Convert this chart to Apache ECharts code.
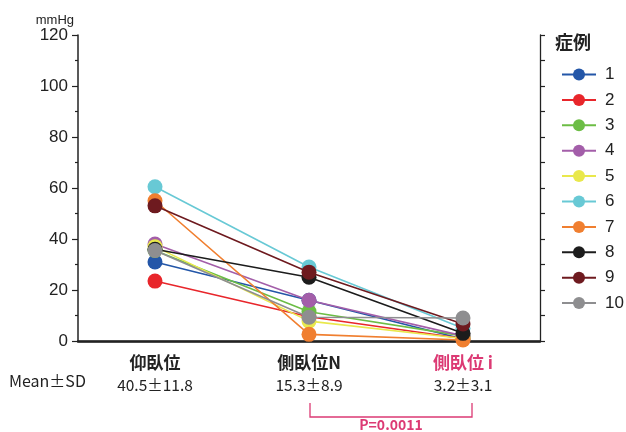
<!DOCTYPE html>
<html>
<head>
<meta charset="utf-8">
<script src="https://cdn.jsdelivr.net/npm/echarts@6/dist/echarts.min.js"></script>
<style>
  html, body { margin: 0; padding: 0; background: #fff; }
  #chart { width: 626px; height: 432px; }
</style>
</head>
<body>
<div id="chart"></div>
<script>
// Positions (categories) and the summary row under each
const positions = ['仰臥位', '側臥位N', '側臥位 i'];
const meanSd = ['40.5±11.8', '15.3±8.9', '3.2±3.1'];
const pValue = 'P=0.0011';

// Pressure per case (mmHg) at each position
const case1 = [31, 16, 0.8];
const case2 = [23.5, 9.5, 1];
const case3 = [35.5, 11.5, 2];
const case4 = [38, 16, 2];
const case5 = [37, 7.8, 1];
const case6 = [60.5, 29, 5];
const case7 = [55, 2.6, 0.4];
const case8 = [36, 25, 3];
const case9 = [53, 27, 6.7];
const case10 = [35.5, 9.3, 9];

const caseNames = ['1', '2', '3', '4', '5', '6', '7', '8', '9', '10'];
const caseData = [case1, case2, case3, case4, case5, case6, case7, case8, case9, case10];
const caseColors = ['#2356a8', '#e8262b', '#6cbd45', '#a35ea9', '#e9e84c',
                    '#68c9d5', '#f07f30', '#1c1c1c', '#6e1a1f', '#8e8e90'];

const yTicks = [0, 20, 40, 60, 80, 100, 120];

const FONT = '"Liberation Sans Narrow", "Liberation Sans", "Noto Sans CJK JP", sans-serif';
const CJK = '"Noto Sans CJK JP", sans-serif';
const PINK = '#dc3a74';
const INK = '#222';

const chart = echarts.init(document.getElementById('chart'), null, { renderer: 'canvas' });

const series = caseData.map((vals, i) => ({
  name: caseNames[i],
  type: 'line',
  data: vals,
  symbol: 'circle',
  symbolSize: 15,
  color: caseColors[i],
  lineStyle: { width: 1.6, color: caseColors[i] },
  itemStyle: { color: caseColors[i] },
  emphasis: { disabled: true },
  animation: false,
  z: 3 + i
}));

const option = {
  animation: false,
  grid: { left: 78, right: 86, top: 35, bottom: 91, containLabel: false },
  xAxis: [{
    type: 'category',
    data: positions,
    boundaryGap: true,
    axisLine: { lineStyle: { color: INK, width: 2.5 } },
    axisTick: { alignWithLabel: true, length: 4, lineStyle: { color: INK, width: 1.2 } },
    axisLabel: {
      margin: 11,
      interval: 0,
      formatter: (v, idx) => {
        const key = idx === 2 ? 'hp' : 'h';
        return '{' + key + '|' + v + '}\n{m|' + meanSd[idx] + '}';
      },
      rich: {
        h: { fontFamily: CJK, fontSize: 17, fontWeight: 'bold', color: INK, lineHeight: 22 },
        hp: { fontFamily: CJK, fontSize: 17, fontWeight: 'bold', color: PINK, lineHeight: 22 },
        m: { fontFamily: CJK, fontSize: 15.5, color: INK, lineHeight: 22 }
      }
    }
  }, {
    type: 'category',
    data: positions,
    position: 'top',
    axisLine: { lineStyle: { color: INK, width: 1.3 } },
    axisTick: { show: false },
    axisLabel: { show: false }
  }],
  yAxis: [{
    type: 'value',
    min: 0, max: 120, interval: 20,
    name: 'mmHg',
    nameLocation: 'end',
    nameGap: 6,
    nameTextStyle: { fontFamily: FONT, fontSize: 13, color: INK, align: 'right', padding: [0, 4, 0, 0] },
    axisLine: { show: true, lineStyle: { color: INK, width: 1.5 } },
    axisTick: { show: true, length: 6, lineStyle: { color: INK, width: 1.2 } },
    minorTick: { show: true, splitNumber: 2, length: 3, lineStyle: { color: INK, width: 1.2 } },
    splitLine: { show: false },
    axisLabel: {
      margin: 10,
      fontFamily: FONT, fontSize: 17, color: INK,
      formatter: v => (yTicks.indexOf(v) >= 0 ? String(v) : '')
    }
  }, {
    type: 'value',
    min: 0, max: 120, interval: 10,
    position: 'right',
    axisLine: { show: true, lineStyle: { color: INK, width: 1.3 } },
    axisTick: { show: true, length: 5, lineStyle: { color: INK, width: 1.2 } },
    splitLine: { show: false },
    axisLabel: { show: false }
  }],
  legend: {
    orient: 'vertical',
    left: 556,
    top: 61,
    itemWidth: 34,
    itemHeight: 15,
    itemGap: 8.4,
    data: caseNames,
    selectedMode: false,
    textStyle: { fontFamily: FONT, fontSize: 17, color: INK, padding: [0, 0, 0, 4], lineHeight: 15 }
  },
  series: series
};

chart.setOption(option);

// Annotations placed from the axis scales: legend title, summary caption and significance bracket
const p1 = chart.convertToPixel({ xAxisIndex: 0, yAxisIndex: 0 }, [1, 0]);
const p2 = chart.convertToPixel({ xAxisIndex: 0, yAxisIndex: 0 }, [2, 0]);
const xL = p1[0] + 1;
const xR = p2[0] + 9;
const yTop = p1[1] + 62;
const yBot = p1[1] + 76;

chart.setOption({
  graphic: [
    {
      type: 'text', left: 555, top: 33,
      style: { text: '症例', fontFamily: CJK, fontSize: 18, fontWeight: 'bold', fill: INK }
    },
    {
      type: 'text', left: 9, top: 373,
      style: { text: 'Mean±SD', fontFamily: CJK, fontSize: 16, fill: INK }
    },
    {
      type: 'polyline',
      shape: { points: [[xL, yTop], [xL, yBot], [xR, yBot], [xR, yTop]] },
      style: { stroke: PINK, lineWidth: 1.3, fill: null }
    },
    {
      type: 'text',
      x: (xL + xR) / 2, y: yBot + 1,
      style: { text: pValue, fontFamily: CJK, fontSize: 14, fontWeight: 'bold', fill: PINK, align: 'center', verticalAlign: 'top' }
    }
  ]
});
</script>
</body>
</html>
